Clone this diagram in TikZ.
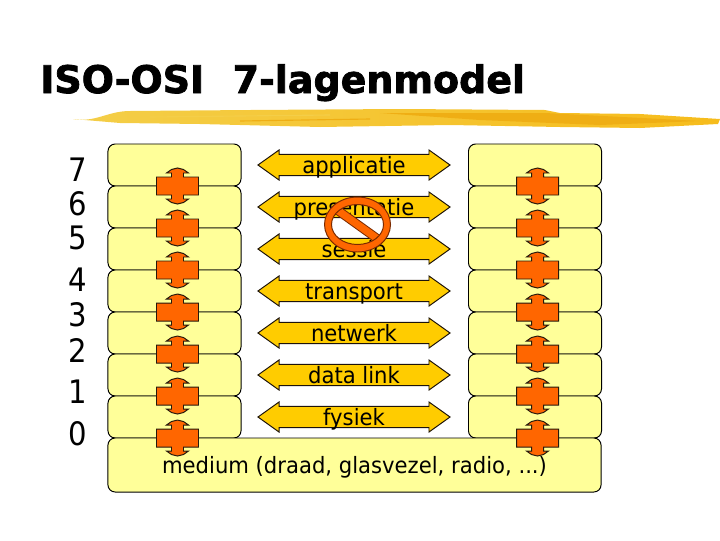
\documentclass[tikz,border=0pt]{standalone}
\usepackage{fontspec}
\setmainfont[FakeStretch=0.94]{DejaVu Sans}
\newfontfamily\titlefont[FakeBold=2]{DejaVu Sans Bold}
\newfontfamily\numfont[FakeStretch=0.9]{DejaVu Sans}
\usetikzlibrary{positioning}
\usetikzlibrary{shapes.arrows}

\definecolor{layeryellow}{HTML}{FFFF99}
\definecolor{arrowgold}{HTML}{FFCC00}
\definecolor{crossorange}{HTML}{FF6600}
\definecolor{brushlight}{HTML}{F4CE48}
\definecolor{brushgold}{HTML}{F6BC1C}
\definecolor{brushdark}{HTML}{EFAE14}
\definecolor{signred}{HTML}{7A2A00}

\tikzset{
  layerbox/.style={draw=black,fill=layeryellow,rounded corners=0.18cm,minimum width=3.325cm,minimum height=1.05cm,line width=0.7pt},
  peerarrow/.style={draw=black!85!brown,fill=arrowgold,double arrow,double arrow head extend=0.11cm,double arrow tip angle=71,minimum height=4.8cm,minimum width=0.75cm,inner sep=0pt,line width=0.7pt,text height=0.45cm,text depth=0.05cm,font=\fontsize{16}{16}\selectfont},
  levelnum/.style={font=\fontsize{23}{23}\numfont,inner sep=0pt},
  crossbar/.style={draw=black!80!brown,fill=crossorange,line width=0.7pt},
  pics/layercross/.style={code={
    \draw[crossbar] (-6,-9) -- (-6,-13) -- (-11,-13) -- (-6,-16.5) -- (0,-18)
      -- (6,-16.5) -- (11,-13) -- (6,-13) -- (6,-9) -- (21,-9) -- (21,9) -- (6,9)
      -- (6,13) -- (11,13) -- (6,16.5) -- (0,18) -- (-6,16.5) -- (-11,13) -- (-6,13)
      -- (-6,9) -- (-21,9) -- (-21,-9) -- cycle;
  }}
}

\begin{document}
\begin{tikzpicture}[x=0.025cm,y=-0.025cm]
  \useasboundingbox (0,0) rectangle (720,540);

  % titel
  \node[anchor=base west,inner sep=0pt,font=\fontsize{27}{27}\titlefont] (title) at (40,93) {ISO-OSI\hspace{0.75em}7-lagenmodel};

  % penseelstreek
  \shade[left color=brushlight,right color=brushgold] (73,119) to [out=-10,in=180] (130,111) -- (250,110) -- (400,109) -- (545,110) -- (560,113) -- (640,114) -- (720,119) -- (718,124) -- (640,128) -- (560,127) -- (450,125) -- (320,127) -- (200,124) -- (120,123) -- cycle;
  \fill[brushdark] (380,113) -- (545,113) -- (700,121) -- (600,125) -- (480,120) -- cycle;
  \draw[brushlight,line width=0.8pt] (150,117) -- (330,115);
  \draw[brushdark,line width=0.8pt] (240,121) -- (370,119);

  % nummers
  \node[levelnum] (n7) at (78,170) {7};
  \node[levelnum] (n6) at (78,204) {6};
  \node[levelnum] (n5) at (78,238) {5};
  \node[levelnum] (n4) at (78,280) {4};
  \node[levelnum] (n3) at (78,315) {3};
  \node[levelnum] (n2) at (78,350) {2};
  \node[levelnum] (n1) at (78,392) {1};
  \node[levelnum] (n0) at (78,434) {0};

  % linker stapel
  \node[layerbox] (l7) at (174.5,165) {};
  \node[layerbox] (l6) at (174.5,207) {};
  \node[layerbox] (l5) at (174.5,249) {};
  \node[layerbox] (l4) at (174.5,291) {};
  \node[layerbox] (l3) at (174.5,333) {};
  \node[layerbox] (l2) at (174.5,375) {};
  \node[layerbox] (l1) at (174.5,417) {};

  % rechter stapel
  \node[layerbox] (r7) at (535,165) {};
  \node[layerbox] (r6) at (535,207) {};
  \node[layerbox] (r5) at (535,249) {};
  \node[layerbox] (r4) at (535,291) {};
  \node[layerbox] (r3) at (535,333) {};
  \node[layerbox] (r2) at (535,375) {};
  \node[layerbox] (r1) at (535,417) {};

  % medium
  \node[layerbox,minimum width=12.325cm,minimum height=1.35cm] (medium) at (354.5,465) {};

  % pijlen tussen de lagen
  \node[peerarrow] (applicatie) at (354,165) {applicatie};
  \node[peerarrow] (presentatie) at (354,207) {presentatie};
  \node[peerarrow] (sessie) at (354,249) {sessie};
  \node[peerarrow] (transport) at (354,291) {transport};
  \node[peerarrow] (netwerk) at (354,333) {netwerk};
  \node[peerarrow] (datalink) at (354,375) {data link};
  \node[peerarrow] (fysiek) at (354,417) {fysiek};

  % kruisjes links
  \pic at (177.5,186) {layercross};
  \pic at (177.5,228) {layercross};
  \pic at (177.5,270) {layercross};
  \pic at (177.5,312) {layercross};
  \pic at (177.5,354) {layercross};
  \pic at (177.5,396) {layercross};
  \pic at (177.5,438) {layercross};

  % kruisjes rechts
  \pic at (537.5,186) {layercross};
  \pic at (537.5,228) {layercross};
  \pic at (537.5,270) {layercross};
  \pic at (537.5,312) {layercross};
  \pic at (537.5,354) {layercross};
  \pic at (537.5,396) {layercross};
  \pic at (537.5,438) {layercross};

  \node[anchor=base,inner sep=0pt,font=\fontsize{16}{16}\selectfont] (mediumtext) at (354.5,473) {medium (draad, glasvezel, radio, ...)};

  % verbodsbord
  \draw[signred,line width=6.6pt] (335.5,208.7) -- (379.5,240.3);
  \draw[crossorange,line width=5.2pt] (335.5,208.7) -- (379.5,240.3);
  \draw[signred,fill=crossorange,even odd rule,line width=0.7pt] (357.5,224.5) ellipse [x radius=33,y radius=27.5] (357.5,224.5) ellipse [x radius=26,y radius=20];
\end{tikzpicture}
\end{document}
